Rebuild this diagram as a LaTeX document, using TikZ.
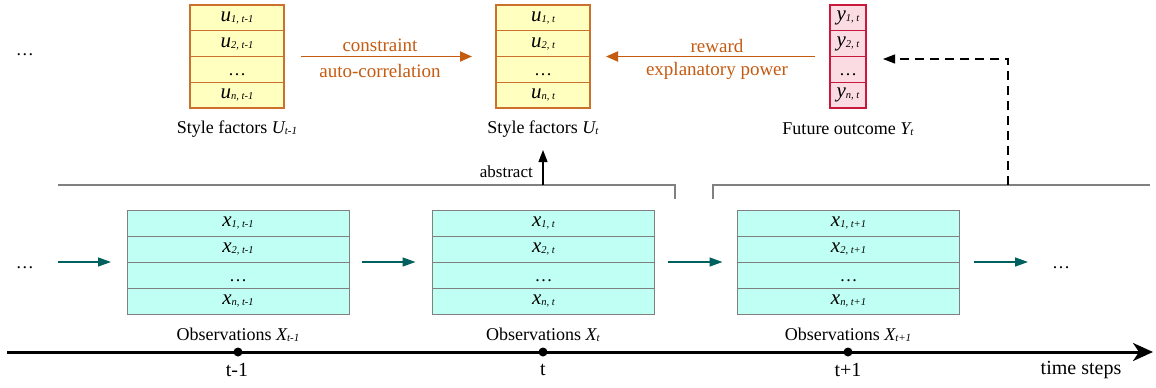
\documentclass[tikz,border=0pt]{standalone}
\usepackage{fontspec}
\setmainfont{Liberation Serif}
\usetikzlibrary{arrows.meta}
\definecolor{ufill}{RGB}{255,255,192}
\definecolor{uline}{RGB}{204,112,45}
\definecolor{orarrow}{RGB}{197,90,17}
\definecolor{yfill}{RGB}{251,220,226}
\definecolor{yline}{RGB}{200,24,60}
\definecolor{xfill}{RGB}{192,255,244}
\definecolor{xline}{RGB}{128,128,128}
\definecolor{teal2}{RGB}{0,96,96}
\newcommand{\cv}[2]{{\fontsize{21}{21}\selectfont\itshape #1}\raisebox{-1pt}{\fontsize{10.5}{10.5}\selectfont\itshape #2}}
\newcommand{\celldots}{\raisebox{0pt}[12pt][0pt]{\fontsize{18}{18}\selectfont\dots}}
\newcommand{\capv}[3]{#1 {\itshape #2}\raisebox{-1.5pt}{\fontsize{11}{11}\selectfont\itshape #3}}
\tikzset{
  cellbase/.style={rectangle, inner sep=0pt, outer sep=0pt, line width=1.2pt},
  ucell/.style={cellbase, draw=uline, fill=ufill, minimum width=94pt, minimum height=25.75pt},
  ycell/.style={cellbase, draw=yline, fill=yfill, minimum width=36pt, minimum height=25.75pt},
  xcell/.style={cellbase, draw=xline, fill=xfill, line width=1pt, minimum width=222pt, minimum height=26pt},
  capt/.style={inner sep=0pt, font=\fontsize{18}{20}\selectfont},
  arlbl/.style={inner sep=0pt, text=orarrow, font=\fontsize{19}{21}\selectfont},
  tlbl/.style={inner sep=0pt, font=\fontsize{20}{22}\selectfont},
  orarr/.style={draw=orarrow, line width=1.8pt, -{Triangle[length=12pt,width=10pt]}},
  tealarr/.style={draw=teal2, line width=1.4pt, -{Triangle[length=13pt,width=9pt]}},
  blkarr/.style={draw=black, line width=1.2pt, -{Triangle[length=12pt,width=9pt]}},
  brk/.style={draw=xline, line width=1.2pt},
  tdot/.style={circle, fill=black, inner sep=0pt, minimum size=9pt},
}
\begin{document}
\begin{tikzpicture}[x=1pt,y=-1pt]
\useasboundingbox (0,0) rectangle (1156,388);
% ---- style factors U_{t-1}
\node[ucell] (u1r1) at (237,17.875) {\cv{u}{1, t-1}};
\node[ucell] (u1r2) at (237,43.625) {\cv{u}{2, t-1}};
\node[ucell] (u1r3) at (237,69.375) {\celldots};
\node[ucell] (u1r4) at (237,95.125) {\cv{u}{n, t-1}};
\node[capt] (capU1) at (237,129) {\capv{Style factors}{U}{t-1}};
% ---- style factors U_t
\node[ucell] (u2r1) at (543,17.875) {\cv{u}{1, t}};
\node[ucell] (u2r2) at (543,43.625) {\cv{u}{2, t}};
\node[ucell] (u2r3) at (543,69.375) {\celldots};
\node[ucell] (u2r4) at (543,95.125) {\cv{u}{n, t}};
\node[capt] (capU2) at (543,129) {\capv{Style factors}{U}{t}};
% ---- future outcome Y_t
\node[ycell] (yr1) at (848,17.875) {\cv{y}{1, t}};
\node[ycell] (yr2) at (848,43.625) {\cv{y}{2, t}};
\node[ycell] (yr3) at (848,69.375) {\celldots};
\node[ycell] (yr4) at (848,95.125) {\cv{y}{n, t}};
\node[capt] (capY) at (848,129) {\capv{Future outcome}{Y}{t}};
% ---- left dots top
\node[capt] (dotsTL) at (25,55) {\dots};
% ---- orange arrows
\draw[orarr, shorten <=17pt, shorten >=24pt] (u1r2.south east) -- (u2r2.south west);
\node[arlbl] (lc1) at (380,45) {constraint};
\node[arlbl] (lc2) at (380,71) {auto-correlation};
\draw[orarr, shorten <=15pt, shorten >=16pt] (yr2.south west) -- (u2r2.south east);
\node[arlbl] (lr1) at (717,46) {reward};
\node[arlbl] (lr2) at (717,71) {explanatory power};
% ---- brackets
\coordinate (bL0) at (58,185);
\coordinate (bL1) at (675,185);
\coordinate (bL2) at (675,199);
\coordinate (bR0) at (713,199);
\coordinate (bR1) at (713,185);
\coordinate (bR2) at (1150,185);
\draw[brk] (bL0) -- (bL1) -- (bL2);
\draw[brk] (bR0) -- (bR1) -- (bR2);
% ---- abstract arrow
\coordinate (ab) at (543,185);
\draw[blkarr, shorten >=21pt] (ab) -- (capU2.center);
\node[capt, font=\fontsize{17}{19}\selectfont, anchor=east] (abl) at (533,172) {abstract};
% ---- dashed arrow
\coordinate (ds) at (1008,185);
\coordinate (dc) at (1008,59);
\coordinate (de) at (866,59);
\draw[draw=black, line width=1.2pt, dash pattern=on 9pt off 6pt, -{Triangle[length=12pt,width=9pt]}, shorten >=17pt] (ds) -- (dc) -- (de);
% ---- observations
\node[xcell] (x1r1) at (238,223) {\cv{x}{1, t-1}};
\node[xcell] (x1r2) at (238,249) {\cv{x}{2, t-1}};
\node[xcell] (x1r3) at (238,275) {\celldots};
\node[xcell] (x1r4) at (238,301) {\cv{x}{n, t-1}};
\node[capt] (capX1) at (238,335) {\capv{Observations}{X}{t-1}};
\node[xcell] (x2r1) at (543.5,223) {\cv{x}{1, t}};
\node[xcell] (x2r2) at (543.5,249) {\cv{x}{2, t}};
\node[xcell] (x2r3) at (543.5,275) {\celldots};
\node[xcell] (x2r4) at (543.5,301) {\cv{x}{n, t}};
\node[capt] (capX2) at (543,335) {\capv{Observations}{X}{t}};
\node[xcell] (x3r1) at (848.5,223) {\cv{x}{1, t+1}};
\node[xcell] (x3r2) at (848.5,249) {\cv{x}{2, t+1}};
\node[xcell] (x3r3) at (848.5,275) {\celldots};
\node[xcell] (x3r4) at (848.5,301) {\cv{x}{n, t+1}};
\node[capt] (capX3) at (848,335) {\capv{Observations}{X}{t+1}};
% ---- teal arrows and dots
\node[capt] (dotsBL) at (25,268) {\dots};
\node[capt] (dotsBR) at (1061,268) {\dots};
\coordinate (t0) at (58,262);
\coordinate (t9) at (1028,262);
\draw[tealarr, shorten >=16pt] (t0) -- (x1r2.south west);
\draw[tealarr, shorten <=13pt, shorten >=17pt] (x1r2.south east) -- (x2r2.south west);
\draw[tealarr, shorten <=13pt, shorten >=15pt] (x2r2.south east) -- (x3r2.south west);
\draw[tealarr, shorten <=14pt] (x3r2.south east) -- (t9);
% ---- timeline
\coordinate (tl0) at (7,352);
\coordinate (tl1) at (1153,352);
\draw[line width=3pt, -{Stealth[length=20pt,width=18pt,inset=6pt]}] (tl0) -- (tl1);
\node[tdot] (d1) at (238,352) {};
\node[tdot] (d2) at (543,352) {};
\node[tdot] (d3) at (848,352) {};
\node[tlbl] (l1) at (237,370) {t-1};
\node[tlbl] (l2) at (543,370) {t};
\node[tlbl] (l3) at (848,370) {t+1};
\node[tlbl] (l4) at (1081,370) {time steps};
\end{tikzpicture}
\end{document}
